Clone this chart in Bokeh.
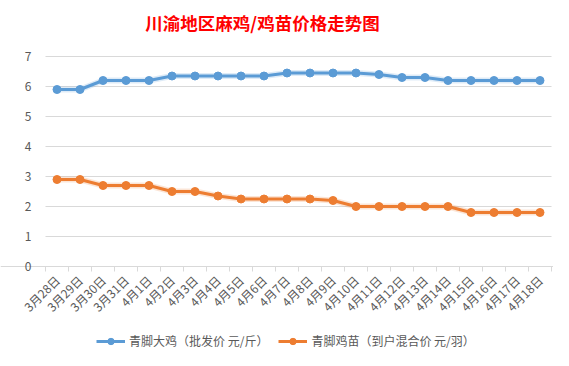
from bokeh.plotting import figure
from bokeh.models import FixedTicker, Legend, LegendItem, Range1d, Label
from bokeh.embed import file_html
from bokeh.resources import INLINE

dates = ["3月28日", "3月29日", "3月30日", "3月31日", "4月1日", "4月2日", "4月3日",
         "4月4日", "4月5日", "4月6日", "4月7日", "4月8日", "4月9日", "4月10日",
         "4月11日", "4月12日", "4月13日", "4月14日", "4月15日", "4月16日",
         "4月17日", "4月18日"]
chicken = [5.9, 5.9, 6.2, 6.2, 6.2, 6.35, 6.35, 6.35, 6.35, 6.35, 6.45, 6.45,
           6.45, 6.45, 6.4, 6.3, 6.3, 6.2, 6.2, 6.2, 6.2, 6.2]
chick = [2.9, 2.9, 2.7, 2.7, 2.7, 2.5, 2.5, 2.35, 2.25, 2.25, 2.25, 2.25,
         2.2, 2.0, 2.0, 2.0, 2.0, 2.0, 1.8, 1.8, 1.8, 1.8]
y_ticks = [0, 1, 2, 3, 4, 5, 6, 7]
title_text = "川渝地区麻鸡/鸡苗价格走势图"
name1 = "青脚大鸡（批发价 元/斤）"
name2 = "青脚鸡苗（到户混合价 元/羽）"

FONT = "Noto Sans CJK SC"
GRAY = "#D9D9D9"
TXT = "#595959"
BLUE = "#5B9BD5"
ORANGE = "#ED7D31"

n = len(dates)
xs = list(range(n))

W, H = 553, 350
PLOT_LEFT, PLOT_RIGHT = 45, 551          # pixel columns of the plot area
PLOT_TOP, PLOT_BOTTOM = 56, 266          # pixel rows of 7 and 0
px_per_cat = (PLOT_RIGHT - PLOT_LEFT) / n
px_per_unit = (PLOT_BOTTOM - PLOT_TOP) / (y_ticks[-1] - y_ticks[0])
x_lo = -0.5 - PLOT_LEFT / px_per_cat
x_hi = n - 0.5 + (W - PLOT_RIGHT) / px_per_cat
y_lo = y_ticks[0] - (H - PLOT_BOTTOM) / px_per_unit
y_hi = y_ticks[-1] + PLOT_TOP / px_per_unit

p = figure(width=W, height=H, output_backend="svg", toolbar_location=None,
           x_range=Range1d(x_lo, x_hi), y_range=Range1d(y_lo, y_hi),
           min_border_left=0, min_border_right=0, min_border_top=0,
           min_border_bottom=0)
p.outline_line_color = None
p.background_fill_color = "white"
p.border_fill_color = "white"

# x axis, pinned at y = 0
p.xaxis.fixed_location = 0
p.xaxis.ticker = FixedTicker(ticks=xs, minor_ticks=[i - 0.5 for i in range(n + 1)])
p.xaxis.major_label_overrides = {i: d for i, d in enumerate(dates)}
p.xaxis.major_label_orientation = 0.785398
p.xaxis.major_tick_out = 0
p.xaxis.major_tick_in = 0
p.xaxis.minor_tick_out = 5
p.xaxis.minor_tick_in = 0
p.xaxis.minor_tick_line_color = GRAY
p.xaxis.axis_line_color = GRAY
p.xaxis.major_label_text_font = FONT
p.xaxis.major_label_text_font_size = "12px"
p.xaxis.major_label_text_color = TXT
p.xaxis.major_label_standoff = 6

# y axis, pinned at the left edge of the category area
p.yaxis.fixed_location = -0.5
p.yaxis.ticker = FixedTicker(ticks=y_ticks)
p.yaxis.axis_line_color = None
p.yaxis.major_tick_line_color = None
p.yaxis.minor_tick_line_color = None
p.yaxis.major_label_text_font = FONT
p.yaxis.major_label_text_font_size = "12px"
p.yaxis.major_label_text_color = TXT
p.yaxis.major_label_standoff = 8

p.xgrid.visible = False
p.ygrid.visible = False
grid_y = y_ticks[1:]
p.segment(x0=[-0.5] * len(grid_y), x1=[n - 0.5] * len(grid_y),
          y0=grid_y, y1=grid_y, line_color=GRAY, line_width=1)

# soft halo under the lines
p.line(xs, chicken, line_color=BLUE, line_width=6, line_alpha=0.2)
p.line(xs, chick, line_color=ORANGE, line_width=6, line_alpha=0.2)

l1 = p.line(xs, chicken, line_color=BLUE, line_width=3)
s1 = p.scatter(xs, chicken, size=8, fill_color=BLUE, line_color=BLUE)
l2 = p.line(xs, chick, line_color=ORANGE, line_width=3)
s2 = p.scatter(xs, chick, size=8, fill_color=ORANGE, line_color=ORANGE)

legend = Legend(items=[LegendItem(label=name1, renderers=[l1, s1]),
                       LegendItem(label=name2, renderers=[l2, s2])],
                orientation="horizontal", location=(96, 1),
                padding=0, margin=0, spacing=10, glyph_width=29,
                glyph_height=16, label_height=16, label_standoff=4,
                label_text_font=FONT, label_text_font_size="12px",
                label_text_color=TXT, border_line_color=None,
                background_fill_alpha=0)
p.add_layout(legend, "center")

p.add_layout(Label(x=262, y=H - 22, x_units="screen", y_units="screen",
                   text=title_text, text_align="center", text_baseline="middle",
                   text_font=FONT, text_font_size="17.5px",
                   text_font_style="bold", text_color="#FF0000"))

open("out.html", "w").write(file_html(p, INLINE))
